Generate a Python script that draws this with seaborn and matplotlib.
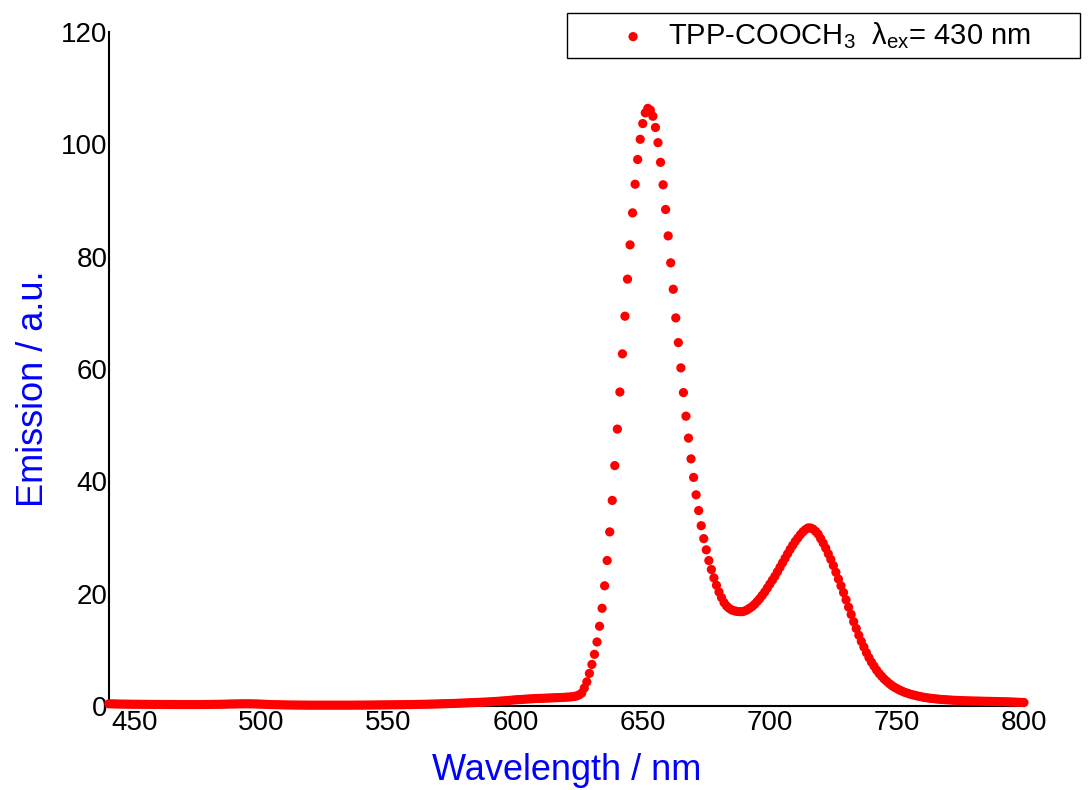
import numpy as np
import pandas as pd
import matplotlib
matplotlib.use("Agg")
import matplotlib.pyplot as plt
import seaborn as sns

# Emission spectrum of TPP-COOCH3 excited at 430 nm, sampled every 1 nm
wavelength_nm = np.arange(440, 801)

emission = [
    # 440-449
    0.40, 0.38, 0.37, 0.36, 0.35, 0.34, 0.33, 0.33, 0.32, 0.32,
    # 450-459
    0.31, 0.31, 0.30, 0.30, 0.30, 0.29, 0.29, 0.29, 0.28, 0.28,
    # 460-469
    0.28, 0.28, 0.27, 0.27, 0.27, 0.27, 0.27, 0.26, 0.26, 0.26,
    # 470-479
    0.26, 0.26, 0.26, 0.26, 0.26, 0.26, 0.26, 0.27, 0.27, 0.28,
    # 480-489
    0.28, 0.29, 0.30, 0.30, 0.31, 0.32, 0.33, 0.34, 0.35, 0.36,
    # 490-499
    0.37, 0.38, 0.38, 0.39, 0.39, 0.39, 0.38, 0.37, 0.36, 0.35,
    # 500-509
    0.33, 0.31, 0.29, 0.27, 0.25, 0.24, 0.23, 0.22, 0.21, 0.20,
    # 510-519
    0.19, 0.18, 0.18, 0.17, 0.17, 0.16, 0.16, 0.16, 0.15, 0.15,
    # 520-529
    0.15, 0.15, 0.15, 0.15, 0.15, 0.15, 0.15, 0.15, 0.15, 0.15,
    # 530-539
    0.15, 0.15, 0.15, 0.15, 0.15, 0.15, 0.15, 0.16, 0.16, 0.16,
    # 540-549
    0.16, 0.17, 0.17, 0.17, 0.18, 0.18, 0.19, 0.19, 0.20, 0.20,
    # 550-559
    0.21, 0.21, 0.22, 0.22, 0.23, 0.23, 0.24, 0.25, 0.25, 0.26,
    # 560-569
    0.27, 0.28, 0.29, 0.30, 0.31, 0.32, 0.33, 0.34, 0.35, 0.36,
    # 570-579
    0.38, 0.39, 0.40, 0.42, 0.43, 0.45, 0.46, 0.48, 0.50, 0.52,
    # 580-589
    0.54, 0.56, 0.58, 0.60, 0.62, 0.64, 0.66, 0.68, 0.70, 0.72,
    # 590-599
    0.75, 0.78, 0.81, 0.84, 0.87, 0.90, 0.94, 0.98, 1.02, 1.06,
    # 600-609
    1.10, 1.13, 1.16, 1.19, 1.22, 1.25, 1.28, 1.30, 1.33, 1.35,
    # 610-619
    1.36, 1.38, 1.40, 1.42, 1.44, 1.46, 1.48, 1.50, 1.52, 1.54,
    # 620-629
    1.57, 1.60, 1.64, 1.70, 1.80, 1.98, 2.30, 3.20, 4.30, 5.80,
    # 630-639
    7.4, 9.2, 11.4, 14.2, 17.4, 21.4, 25.9, 31.0, 36.6, 42.8,
    # 640-649
    49.3, 55.9, 62.7, 69.4, 76.0, 82.1, 87.8, 92.9, 97.3, 100.9,
    # 650-659
    103.7, 105.6, 106.4, 106.1, 105.0, 103.0, 100.3, 96.8, 92.8, 88.4,
    # 660-669
    83.7, 78.9, 74.2, 69.1, 64.7, 60.2, 55.8, 51.6, 47.7, 44.0,
    # 670-679
    40.7, 37.6, 34.8, 32.1, 29.8, 27.8, 25.9, 24.3, 22.8, 21.5,
    # 680-689
    20.3, 19.3, 18.4, 17.8, 17.4, 17.1, 16.95, 16.85, 16.8, 16.8,
    # 690-699
    16.9, 17.1, 17.4, 17.7, 18.1, 18.6, 19.1, 19.7, 20.3, 21.0,
    # 700-709
    21.7, 22.4, 23.1, 23.9, 24.7, 25.5, 26.3, 27.1, 27.9, 28.6,
    # 710-719
    29.3, 29.9, 30.5, 31.0, 31.4, 31.7, 31.7, 31.5, 31.1, 30.6,
    # 720-729
    29.8, 29.0, 28.1, 27.1, 26.1, 25.0, 23.8, 22.6, 21.4, 20.2,
    # 730-739
    18.9, 17.6, 16.3, 15.0, 13.8, 12.6, 11.5, 10.5, 9.5, 8.6,
    # 740-749
    7.8, 7.1, 6.4, 5.8, 5.3, 4.8, 4.4, 4.0, 3.65, 3.35,
    # 750-759
    3.1, 2.85, 2.65, 2.45, 2.3, 2.15, 2.02, 1.9, 1.8, 1.7,
    # 760-769
    1.6, 1.52, 1.45, 1.39, 1.33, 1.28, 1.23, 1.19, 1.15, 1.12,
    # 770-779
    1.09, 1.06, 1.03, 1.01, 0.99, 0.97, 0.95, 0.93, 0.92, 0.90,
    # 780-789
    0.89, 0.88, 0.87, 0.86, 0.85, 0.84, 0.83, 0.82, 0.81, 0.80,
    # 790-799
    0.78, 0.77, 0.76, 0.75, 0.73, 0.72, 0.70, 0.68, 0.66, 0.64,
    # 800
    0.62,
]

series_label = "TPP-COOCH$_3$  λ$_{ex}$= 430 nm"
x_ticks = [450, 500, 550, 600, 650, 700, 750, 800]
y_ticks = [0, 20, 40, 60, 80, 100, 120]

df = pd.DataFrame({"Wavelength": wavelength_nm, "Emission": emission})

sns.set_theme(style="white")
plt.rcParams["font.family"] = ["Liberation Sans", "DejaVu Sans"]
plt.rcParams["mathtext.fontset"] = "custom"
plt.rcParams["mathtext.rm"] = "Liberation Sans"
plt.rcParams["mathtext.it"] = "Liberation Sans"
plt.rcParams["mathtext.default"] = "regular"
plt.rcParams["text.color"] = "black"

W, H = 1091, 790
fig = plt.figure(figsize=(W / 100, H / 100), dpi=100)
ax = fig.add_axes([109 / W, 1 - 706 / H, (1024 - 109) / W, (706 - 32) / H])

sns.scatterplot(data=df, x="Wavelength", y="Emission", ax=ax,
                color="#ff0000", s=44, edgecolor="none", linewidth=0,
                label=series_label, zorder=3, clip_on=False)

ax.set_xlim(440, 800)
ax.set_ylim(0, 120)
ax.set_xticks(x_ticks)
ax.set_yticks(y_ticks)
ax.set_xticks(np.arange(475, 800, 50), minor=True)
ax.set_yticks(np.arange(10, 120, 20), minor=True)

for side in ("top", "right"):
    ax.spines[side].set_visible(False)
for side in ("left", "bottom"):
    ax.spines[side].set_color("black")
    ax.spines[side].set_linewidth(1.5)

ax.tick_params(axis="both", which="both", direction="in", length=3, width=1,
               color="black", labelsize=20, labelcolor="black")
ax.tick_params(axis="x", which="major", pad=3)
ax.tick_params(axis="y", which="major", pad=1)

ax.set_xlabel("Wavelength / nm", fontsize=26, color="#0000ff")
ax.set_ylabel("Emission / a.u.", fontsize=26, color="#0000ff")
ax.xaxis.set_label_coords(0.5, -0.07)
ax.yaxis.set_label_coords(-0.063, 0.47)

# Framed legend box spanning the top-right corner above the plot
leg = ax.legend(loc="upper left",
                bbox_to_anchor=(567 / W, 1 - 61 / H, (1080 - 567) / W, 48 / H),
                bbox_transform=fig.transFigure, mode="expand", borderaxespad=0,
                fontsize=21, frameon=True, fancybox=False, shadow=False,
                handlelength=4.03, handletextpad=-0.82, borderpad=0.25,
                markerscale=1.0, labelcolor="black")
leg.get_frame().set_edgecolor("black")
leg.get_frame().set_linewidth(1.0)
leg.get_frame().set_alpha(1)

fig.savefig("out.png", dpi=100)
